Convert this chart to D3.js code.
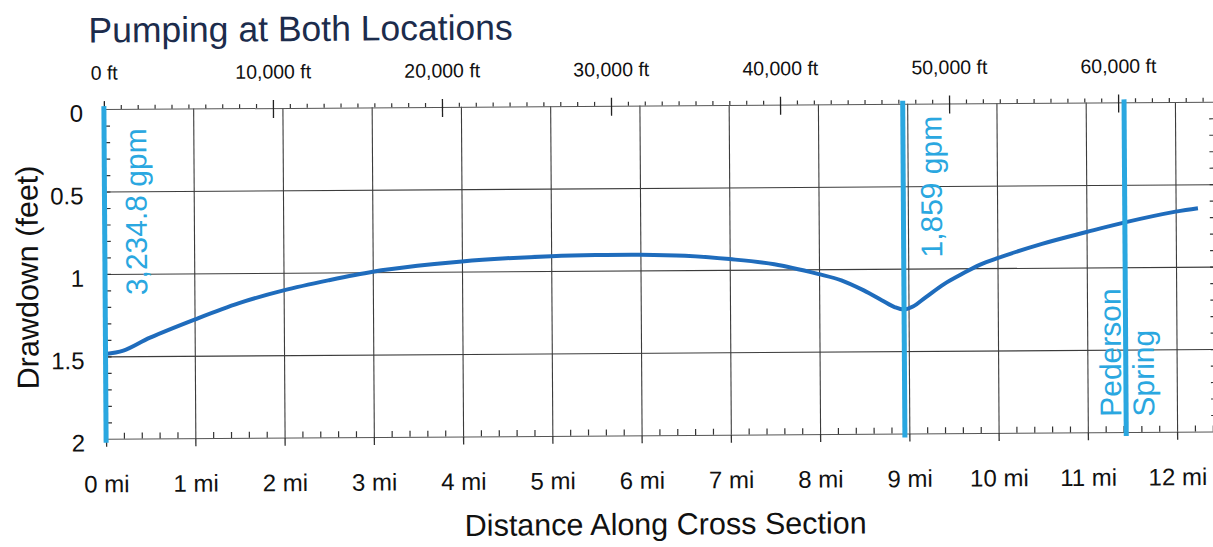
<!DOCTYPE html>
<html>
<head>
<meta charset="utf-8">
<script src="https://cdn.jsdelivr.net/npm/d3@7"></script>
<style>
    body { margin: 0; background: #fff; }
    svg { display: block; font-family: "Liberation Sans", Arial, sans-serif; }
</style>
</head>
<body>
<svg id="chart" width="1213" height="547"></svg>
<script>
// Distance along the cross section (miles) and simulated drawdown (feet)
const distanceMi = [0, 0.2, 0.5, 1, 1.5, 2, 2.5, 3, 3.5, 4, 4.5, 5, 5.5, 6, 6.5, 7, 7.5, 8, 8.25, 8.5, 8.7, 8.85, 8.95, 9.05, 9.2, 9.4, 9.6, 9.8, 10, 10.5, 11, 11.43, 12, 12.25];
const drawdownFt = [1.485, 1.466, 1.388, 1.28, 1.182, 1.107, 1.048, 0.997, 0.963, 0.938, 0.921, 0.91, 0.905, 0.905, 0.913, 0.935, 0.968, 1.03, 1.068, 1.13, 1.19, 1.234, 1.248, 1.23, 1.172, 1.095, 1.035, 0.98, 0.94, 0.855, 0.785, 0.728, 0.665, 0.645];

// Pumping wells and the spring (miles along section)
const markerMi = [0, 8.95, 11.43];
const markerLabels = [["3,234.8 gpm"], ["1,859 gpm"], ["Pederson", "Spring"]];

// Tick values
const mileTicks = [0, 1, 2, 3, 4, 5, 6, 7, 8, 9, 10, 11, 12];
const feetTicks = [0, 10000, 20000, 30000, 40000, 50000, 60000];
const drawdownTicks = [0, 0.5, 1, 1.5, 2];

const lightBlue = "#2aa7e0";
const curveBlue = "#1f6cbc";
const gridColor = "#3c3c3c";

const maxMi = 12.45;
const x = d3.scaleLinear().domain([0, maxMi]).range([105, 1216.2]);
const xFt = d3.scaleLinear().domain([0, maxMi * 5280]).range([105, 1216.2]);
const y = d3.scaleLinear().domain([0, 2]).range([105.8, 435.5]);

const svg = d3.select("#chart");
// the scanned figure is tilted a little, so the whole drawing is too
const g = svg.append("g").attr("transform", "rotate(-0.38,606,273)");

// Title
g.append("text")
    .attr("x", 90)
    .attr("y", 39)
    .attr("fill", "#1c2c4c")
    .style("font-size", "35.5px")
    .text("Pumping at Both Locations");

// Vertical grid lines (every mile)
g.append("g")
    .attr("transform", `translate(0,${y(2)})`)
    .call(d3.axisBottom(x).tickValues(mileTicks.slice(1)).tickSize(-(y(2) - y(0))).tickFormat(""))
    .call(a => a.select(".domain").remove())
    .selectAll("line").attr("stroke", gridColor).attr("stroke-width", 1.1);

// Horizontal grid lines
g.append("g")
    .attr("transform", `translate(${x(0)},0)`)
    .call(d3.axisLeft(y).tickValues([0.5, 1, 1.5]).tickSize(-(x(maxMi) - x(0))).tickFormat(""))
    .call(a => a.select(".domain").remove())
    .selectAll("line").attr("stroke", gridColor).attr("stroke-width", 1.1);

// Bottom axis: miles
const bottomAxis = g.append("g")
    .attr("transform", `translate(0,${y(2)})`)
    .call(d3.axisBottom(x).tickValues(mileTicks).tickSize(8).tickSizeOuter(0).tickFormat(d => `${d} mi`));
bottomAxis.select(".domain").attr("stroke", "#555");
bottomAxis.selectAll("line").attr("stroke", "#333").attr("stroke-width", 1.3);
bottomAxis.selectAll("text")
    .attr("y", 53.5).attr("dy", null)
    .attr("fill", "#111")
    .style("font-size", "24px")
    .style("font-family", "Liberation Sans, Arial, sans-serif");

// Bottom minor ticks (0.2 mi) pointing up
const minorMi = d3.range(0.2, maxMi, 0.2).filter(d => Math.abs(d - Math.round(d)) > 0.01);
g.append("g")
    .attr("transform", `translate(0,${y(2)})`)
    .call(d3.axisBottom(x).tickValues(minorMi).tickSize(-6).tickFormat(""))
    .call(a => a.select(".domain").remove())
    .selectAll("line").attr("stroke", "#333").attr("stroke-width", 1.2);

// Top axis: feet
const topAxis = g.append("g")
    .attr("transform", `translate(0,${y(0)})`)
    .call(d3.axisTop(xFt).tickValues(feetTicks).tickSize(8).tickSizeOuter(0).tickFormat(d => `${d3.format(",")(d)} ft`));
topAxis.select(".domain").attr("stroke", "#555");
topAxis.selectAll("line").attr("y1", 10).attr("y2", -8).attr("stroke", "#222").attr("stroke-width", 1.3);
topAxis.selectAll("text")
    .attr("y", -29.5).attr("dy", 0)
    .attr("fill", "#111")
    .style("font-size", "19.5px")
    .style("font-family", "Liberation Sans, Arial, sans-serif");

// Top minor ticks (1,000 ft)
const minorFt = d3.range(1000, maxMi * 5280, 1000).filter(d => d % 10000 !== 0);
g.append("g")
    .attr("transform", `translate(0,${y(0)})`)
    .call(d3.axisTop(xFt).tickValues(minorFt).tickSize(4).tickFormat(""))
    .call(a => a.select(".domain").remove())
    .selectAll("line").attr("stroke", "#333").attr("stroke-width", 1.2);

// Left axis labels
const leftAxis = g.append("g")
    .attr("transform", `translate(${x(0)},0)`)
    .call(d3.axisLeft(y).tickValues(drawdownTicks).tickSize(0).tickFormat(d => `${d}`));
leftAxis.select(".domain").remove();
leftAxis.selectAll("text")
    .attr("x", -21).attr("dy", "0.5em")
    .attr("fill", "#111")
    .style("font-size", "24px")
    .style("font-family", "Liberation Sans, Arial, sans-serif");

// Minor ticks (0.1 ft) on both sides, pointing inward
const minorDrawdown = d3.range(0.1, 2, 0.1);
g.append("g")
    .attr("transform", `translate(${x(0)},0)`)
    .call(d3.axisRight(y).tickValues(minorDrawdown).tickSize(6).tickFormat(""))
    .call(a => a.select(".domain").remove())
    .selectAll("line").attr("stroke", "#333").attr("stroke-width", 1.2);
g.append("g")
    .attr("transform", `translate(${x(maxMi)},0)`)
    .call(d3.axisLeft(y).tickValues(minorDrawdown).tickSize(6).tickSizeOuter(0).tickFormat(""))
    .call(a => a.select(".domain").attr("stroke", "#555"))
    .selectAll("line").attr("stroke", "#333").attr("stroke-width", 1.2);

// Axis titles
g.append("text")
    .attr("x", 664)
    .attr("y", 535)
    .attr("text-anchor", "middle")
    .attr("fill", "#111")
    .style("font-size", "30.5px")
    .text("Distance Along Cross Section");

g.append("text")
    .attr("transform", `translate(38,${y(1.018)}) rotate(-90)`)
    .attr("text-anchor", "middle")
    .attr("fill", "#111")
    .style("font-size", "30.5px")
    .text("Drawdown (feet)");

// Drawdown curve
const line = d3.line()
    .x(i => x(distanceMi[i]))
    .y(i => y(drawdownFt[i]))
    .curve(d3.curveCatmullRom.alpha(0.5));

g.append("path")
    .datum(d3.range(distanceMi.length))
    .attr("fill", "none")
    .attr("stroke", curveBlue)
    .attr("stroke-width", 4)
    .attr("stroke-linejoin", "round")
    .attr("d", line);

// Well / spring markers
g.selectAll(".marker")
    .data(markerMi)
    .enter().append("line")
    .attr("class", "marker")
    .attr("x1", d => x(d)).attr("x2", d => x(d))
    .attr("y1", y(0) - 3).attr("y2", y(2) + 4)
    .attr("stroke", lightBlue)
    .attr("stroke-width", 5);

// Marker labels: offset from marker line (px), start height (feet)
const labelLayout = [
    { dx: [42], start: 1.13 },
    { dx: [38.5], start: 0.934 },
    { dx: [-5, 28], start: 1.907 }
];
markerLabels.forEach((lines, i) => {
    lines.forEach((txt, j) => {
        g.append("text")
            .attr("transform", `translate(${x(markerMi[i]) + labelLayout[i].dx[j]},${y(labelLayout[i].start)}) rotate(-90)`)
            .attr("fill", lightBlue)
            .style("font-size", "30px")
            .text(txt);
    });
});
</script>
</body>
</html>
